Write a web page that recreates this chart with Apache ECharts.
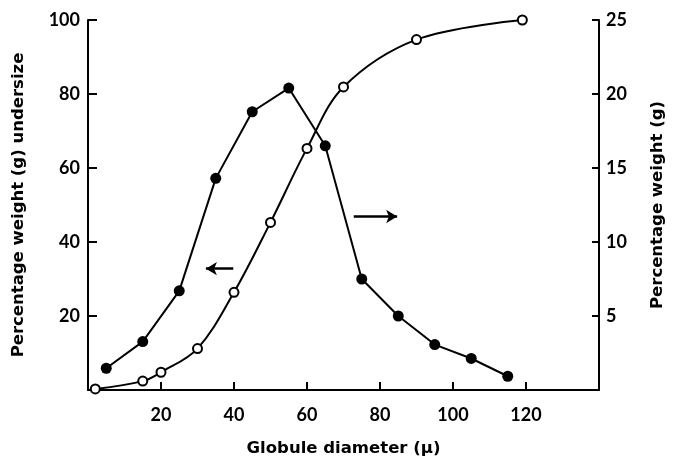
<!DOCTYPE html>
<html><head><meta charset="utf-8">
<script src="https://cdn.jsdelivr.net/npm/echarts@6/dist/echarts.min.js"></script>
<style>html,body{margin:0;padding:0;background:#fff}#c{width:674px;height:462px}</style>
</head><body><div id="c"></div>
<script>
// Cumulative percentage undersize (open circles, left axis)
const diamCum = [2, 15, 20, 30, 40, 50, 60, 70, 90, 119];
const cumUnder = [0.3, 2.4, 4.8, 11.2, 26.4, 45.3, 65.3, 81.9, 94.7, 100];
// Percentage weight (filled circles, right axis)
const diamW = [5, 15, 25, 35, 45, 55, 65, 75, 85, 95, 105, 115];
const weightPct = [1.47, 3.27, 6.7, 14.3, 18.8, 20.4, 16.5, 7.5, 5.0, 3.07, 2.13, 0.93];
// Arrow annotations (x from, x to, y in left-axis units)
const arrowLeft = [39.8, 32.3, 32.8];
const arrowRight = [72.8, 84.7, 46.9];

const chart = echarts.init(document.getElementById('c'));
const axisLine = {show: true, lineStyle: {color: '#000', width: 2}};
const lbl = {color: '#000', fontFamily: 'Lato', fontWeight: 'bold', fontSize: 18};
const nameStyle = {color: '#000', fontFamily: 'DejaVu Sans', fontWeight: 'bold', fontSize: 16.5};
chart.setOption({
  animation: false,
  grid: {left: 88, right: 66, top: 20, bottom: 67},
  xAxis: {
    type: 'value', min: 0, max: 140, interval: 20,
    axisLine, splitLine: {show: false},
    axisTick: {inside: true, length: 8, lineStyle: {color: '#000', width: 2}},
    axisLabel: Object.assign({margin: 16, formatter: v => (v === 0 || v === 140) ? '' : v}, lbl),
    name: 'Globule diameter (\u03bc)', nameLocation: 'middle', nameGap: 50, nameTextStyle: nameStyle
  },
  yAxis: [{
    type: 'value', min: 0, max: 100, interval: 20, position: 'left',
    axisLine, splitLine: {show: false},
    axisTick: {inside: true, length: 9, lineStyle: {color: '#000', width: 2}},
    axisLabel: Object.assign({margin: 8, formatter: v => v === 0 ? '' : v}, lbl),
    name: 'Percentage weight (g) undersize', nameLocation: 'middle', nameGap: 61, nameTextStyle: nameStyle
  }, {
    type: 'value', min: 0, max: 25, interval: 5, position: 'right',
    axisLine, splitLine: {show: false},
    axisTick: {inside: true, length: 7, lineStyle: {color: '#000', width: 2}},
    axisLabel: Object.assign({margin: 7, formatter: v => v === 0 ? '' : v}, lbl),
    name: 'Percentage weight (g)', nameLocation: 'middle', nameGap: 50, nameRotate: 90, nameTextStyle: nameStyle
  }],
  series: [{
    type: 'line', yAxisIndex: 0, smooth: 0.35,
    data: diamCum.map((d, i) => [d, cumUnder[i]]),
    symbol: 'circle', symbolSize: 9,
    itemStyle: {color: '#fff', borderColor: '#000', borderWidth: 2},
    lineStyle: {color: '#000', width: 2},
    markLine: {
      silent: true, symbol: ['none', 'arrow'], symbolSize: [10, 11],
      label: {show: false},
      lineStyle: {color: '#000', width: 2.5, type: 'solid'},
      data: [
        [{coord: [arrowLeft[0], arrowLeft[2]]}, {coord: [arrowLeft[1], arrowLeft[2]]}],
        [{coord: [arrowRight[0], arrowRight[2]]}, {coord: [arrowRight[1], arrowRight[2]]}]
      ]
    }
  }, {
    type: 'line', yAxisIndex: 1,
    data: diamW.map((d, i) => [d, weightPct[i]]),
    symbol: 'circle', symbolSize: 11,
    itemStyle: {color: '#000'},
    lineStyle: {color: '#000', width: 2}
  }]
});
</script></body></html>
